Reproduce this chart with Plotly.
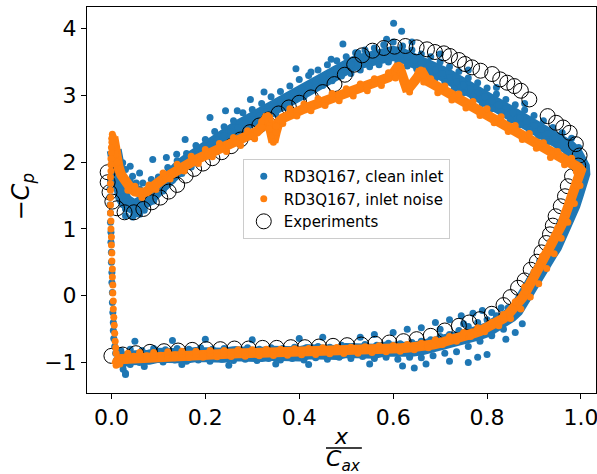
import plotly.graph_objects as go

# ---------------- Experiments ----------------
exp_suction_x = [-0.008,-0.008,-0.004,0.002,0.012,0.028,0.048,0.068,0.086,0.104,0.122,0.140,0.158,0.176,0.195,0.215,0.235,0.255,0.275,0.295,0.315,0.335,0.356,0.378,0.400,0.425,0.450,0.475,0.497,0.517,0.534,0.556,0.580,0.603,0.626,0.650,0.672,0.689,0.708,0.721,0.740,0.753,0.768,0.786,0.811,0.828,0.843,0.858,0.872,0.890,0.929,0.947,0.962,0.976,0.989,0.997,0.994]
exp_suction_y = [1.85,1.70,1.55,1.41,1.31,1.25,1.25,1.30,1.40,1.47,1.56,1.66,1.80,1.90,1.98,2.06,2.15,2.24,2.34,2.45,2.55,2.64,2.73,2.82,2.89,2.97,3.05,3.17,3.31,3.46,3.60,3.67,3.71,3.73,3.74,3.72,3.69,3.65,3.63,3.59,3.53,3.47,3.42,3.37,3.32,3.24,3.19,3.14,3.07,2.94,2.69,2.59,2.52,2.44,2.27,2.10,1.95]
exp_pressure_x = [0.981,0.972,0.966,0.957,0.946,0.940,0.934,0.926,0.916,0.906,0.893,0.880,0.866,0.850,0.835,0.810,0.785,0.762,0.740,0.710,0.680,0.650,0.622,0.592,0.562,0.532,0.502,0.472,0.442,0.412,0.382,0.352,0.322,0.292,0.262,0.232,0.202,0.172,0.142,0.112,0.082,0.052,0.024,0.000]
exp_pressure_y = [1.79,1.64,1.49,1.34,1.19,1.05,0.92,0.79,0.65,0.51,0.39,0.23,0.12,-0.02,-0.14,-0.27,-0.35,-0.40,-0.45,-0.52,-0.60,-0.65,-0.68,-0.70,-0.72,-0.73,-0.74,-0.75,-0.76,-0.77,-0.77,-0.78,-0.78,-0.79,-0.79,-0.80,-0.80,-0.81,-0.82,-0.83,-0.84,-0.86,-0.88,-0.90]

# ---------------- RD3Q167, inlet noise (orange) ----------------
noise_suction_x = [0.004,0.006,0.009,0.012,0.016,0.021,0.027,0.034,0.042,0.050,0.058,0.066,0.075,0.085,0.095,0.105,0.115,0.130,0.145,0.160,0.175,0.190,0.205,0.220,0.235,0.250,0.265,0.280,0.295,0.310,0.320,0.328,0.333,0.337,0.341,0.345,0.350,0.356,0.365,0.380,0.395,0.410,0.425,0.440,0.455,0.470,0.485,0.500,0.515,0.530,0.545,0.560,0.575,0.590,0.600,0.607,0.612,0.617,0.622,0.628,0.636,0.645,0.653,0.659,0.664,0.672,0.685,0.700,0.715,0.730,0.745,0.760,0.775,0.790,0.805,0.820,0.835,0.850,0.865,0.880,0.895,0.910,0.925,0.940,0.955,0.970,0.985,0.995,1.000]
noise_suction_y = [2.38,2.26,2.12,2.00,1.90,1.81,1.73,1.66,1.60,1.56,1.54,1.54,1.56,1.60,1.66,1.72,1.77,1.84,1.90,1.96,2.02,2.07,2.12,2.17,2.21,2.25,2.30,2.35,2.40,2.46,2.53,2.62,2.70,2.55,2.40,2.30,2.45,2.60,2.66,2.72,2.76,2.80,2.84,2.88,2.92,2.96,2.99,3.03,3.06,3.10,3.14,3.18,3.22,3.27,3.33,3.40,3.45,3.35,3.22,3.12,3.13,3.20,3.28,3.38,3.30,3.22,3.17,3.11,3.05,2.99,2.94,2.88,2.82,2.77,2.71,2.65,2.59,2.53,2.46,2.40,2.34,2.27,2.20,2.13,2.07,2.02,1.97,1.92,1.88]
noise_suction_top_x = [0.020,0.050,0.080,0.110,0.140,0.170,0.200,0.230,0.260,0.290,0.320,0.350,0.380,0.410,0.440,0.470,0.500,0.530,0.560,0.590,0.620,0.650,0.680,0.710,0.740,0.770,0.800,0.830,0.860,0.890,0.920,0.950,0.980]
noise_suction_top_y = [1.90,1.64,1.66,1.84,1.97,2.09,2.19,2.28,2.37,2.47,2.61,2.54,2.80,2.87,2.95,3.03,3.10,3.17,3.25,3.34,3.32,3.28,3.25,3.14,3.02,2.91,2.80,2.68,2.55,2.43,2.29,2.16,2.06]
noise_suction_bot_x = [0.035,0.065,0.095,0.125,0.155,0.185,0.215,0.245,0.275,0.305,0.335,0.365,0.395,0.425,0.455,0.485,0.515,0.545,0.575,0.605,0.635,0.665,0.695,0.725,0.755,0.785,0.815,0.845,0.875,0.905,0.935,0.965,0.990]
noise_suction_bot_y = [1.58,1.47,1.59,1.75,1.87,1.98,2.08,2.16,2.25,2.35,2.50,2.58,2.69,2.77,2.85,2.92,2.99,3.07,3.15,3.26,3.05,3.20,3.04,2.93,2.81,2.70,2.59,2.46,2.34,2.21,2.07,1.96,1.86]
noise_pressure_x = [1.000,0.996,0.990,0.985,0.980,0.975,0.970,0.966,0.960,0.955,0.950,0.944,0.936,0.928,0.920,0.912,0.905,0.898,0.890,0.882,0.875,0.866,0.856,0.846,0.835,0.822,0.810,0.798,0.785,0.772,0.760,0.747,0.735,0.722,0.710,0.698,0.685,0.672,0.660,0.645,0.630,0.615,0.600,0.585,0.570,0.555,0.540,0.525,0.510,0.495,0.480,0.465,0.450,0.435,0.420,0.405,0.390,0.375,0.360,0.345,0.330,0.315,0.300,0.285,0.270,0.255,0.240,0.225,0.210,0.195,0.180,0.165,0.150,0.135,0.120,0.105,0.090,0.075,0.060,0.048,0.038,0.030,0.022,0.016,0.012,0.010]
noise_pressure_y = [1.88,1.79,1.66,1.55,1.44,1.34,1.24,1.16,1.08,1.01,0.94,0.85,0.74,0.64,0.54,0.44,0.34,0.25,0.14,0.05,-0.03,-0.12,-0.20,-0.27,-0.34,-0.40,-0.45,-0.49,-0.53,-0.56,-0.59,-0.62,-0.645,-0.67,-0.69,-0.71,-0.73,-0.75,-0.76,-0.77,-0.78,-0.785,-0.79,-0.795,-0.80,-0.80,-0.81,-0.81,-0.815,-0.82,-0.82,-0.825,-0.83,-0.83,-0.835,-0.84,-0.84,-0.845,-0.845,-0.85,-0.85,-0.855,-0.855,-0.86,-0.86,-0.865,-0.865,-0.87,-0.87,-0.875,-0.875,-0.88,-0.88,-0.885,-0.885,-0.89,-0.895,-0.90,-0.90,-0.905,-0.91,-0.92,-0.93,-0.95,-0.99,-1.04]
noise_pressure_top_x = [0.992,0.978,0.965,0.950,0.935,0.918,0.900,0.880,0.860,0.835,0.810,0.780,0.750,0.720,0.690,0.660,0.630,0.600,0.570,0.540,0.510,0.480,0.450,0.420,0.390,0.360,0.330,0.300,0.270,0.240,0.210,0.180,0.150,0.120,0.090,0.060,0.035]
noise_pressure_top_y = [1.75,1.47,1.25,1.01,0.80,0.59,0.36,0.13,-0.09,-0.28,-0.40,-0.48,-0.55,-0.61,-0.66,-0.71,-0.73,-0.745,-0.75,-0.765,-0.77,-0.775,-0.78,-0.79,-0.795,-0.80,-0.80,-0.81,-0.81,-0.82,-0.82,-0.83,-0.83,-0.84,-0.85,-0.85,-0.86]
noise_pressure_bot_x = [0.998,0.986,0.972,0.958,0.943,0.927,0.910,0.892,0.872,0.850,0.825,0.795,0.765,0.735,0.705,0.675,0.645,0.615,0.585,0.555,0.525,0.495,0.465,0.435,0.405,0.375,0.345,0.315,0.285,0.255,0.225,0.195,0.165,0.135,0.105,0.075,0.050,0.030,0.018]
noise_pressure_bot_y = [1.65,1.38,1.10,0.86,0.63,0.41,0.18,-0.02,-0.20,-0.34,-0.45,-0.54,-0.61,-0.68,-0.73,-0.78,-0.81,-0.83,-0.84,-0.85,-0.86,-0.865,-0.87,-0.88,-0.885,-0.89,-0.895,-0.90,-0.905,-0.91,-0.915,-0.92,-0.925,-0.93,-0.935,-0.94,-0.95,-0.97,-1.02]
noise_le_x = [0.002,0.001,0.001,0.000,0.000,-0.001,-0.001,-0.001,-0.002,-0.002,-0.002,-0.002,-0.002,-0.002,-0.001,-0.001,0.000,0.000,0.001,0.001,0.002,0.002,0.003,0.003,0.004,0.004,0.005,0.006,0.007,0.008,0.009,0.010]
noise_le_y = [2.42,2.36,2.30,2.22,2.14,2.05,1.96,1.87,1.78,1.68,1.58,1.47,1.36,1.24,1.12,1.00,0.88,0.76,0.64,0.52,0.40,0.28,0.16,0.04,-0.08,-0.20,-0.32,-0.44,-0.56,-0.68,-0.78,-0.86]

# ---------------- RD3Q167, clean inlet (blue) ----------------
clean_suction_x = [0.006,0.008,0.010,0.012,0.015,0.019,0.024,0.030,0.037,0.045,0.053,0.061,0.070,0.080,0.090,0.100,0.110,0.120,0.135,0.150,0.165,0.180,0.195,0.210,0.225,0.240,0.255,0.270,0.285,0.300,0.315,0.330,0.345,0.360,0.375,0.390,0.405,0.420,0.435,0.450,0.465,0.480,0.495,0.510,0.525,0.540,0.555,0.570,0.585,0.600,0.615,0.630,0.645,0.660,0.675,0.690,0.705,0.720,0.735,0.750,0.765,0.780,0.795,0.810,0.825,0.840,0.855,0.870,0.885,0.900,0.915,0.930,0.945,0.960,0.975,0.988,0.998,1.003,1.004]
clean_suction_y = [2.18,2.05,1.92,1.80,1.68,1.57,1.48,1.41,1.36,1.34,1.34,1.36,1.40,1.46,1.54,1.62,1.70,1.77,1.86,1.95,2.03,2.11,2.19,2.26,2.33,2.40,2.46,2.52,2.58,2.64,2.70,2.76,2.83,2.90,2.97,3.04,3.10,3.16,3.22,3.28,3.33,3.38,3.42,3.46,3.50,3.53,3.56,3.59,3.62,3.63,3.61,3.57,3.53,3.49,3.44,3.38,3.33,3.27,3.21,3.16,3.10,3.04,2.98,2.92,2.86,2.80,2.74,2.67,2.61,2.55,2.49,2.43,2.36,2.29,2.22,2.13,2.03,1.93,1.83]
clean_suction_top_x = [0.020,0.040,0.060,0.080,0.100,0.120,0.140,0.160,0.180,0.200,0.220,0.240,0.260,0.280,0.300,0.320,0.340,0.360,0.380,0.400,0.420,0.440,0.460,0.480,0.500,0.520,0.540,0.560,0.580,0.600,0.620,0.640,0.660,0.680,0.700,0.720,0.740,0.760,0.780,0.800,0.820,0.840,0.860,0.880,0.900,0.920,0.940,0.960,0.980,0.995]
clean_suction_top_y = [1.85,1.72,1.60,1.62,1.78,1.92,2.02,2.13,2.25,2.34,2.46,2.53,2.62,2.74,2.79,2.88,2.98,3.06,3.14,3.24,3.30,3.38,3.46,3.52,3.58,3.64,3.68,3.71,3.76,3.80,3.74,3.68,3.62,3.58,3.50,3.43,3.36,3.26,3.19,3.11,3.02,2.94,2.86,2.78,2.70,2.62,2.52,2.44,2.36,2.22]
clean_suction_bot_x = [0.030,0.050,0.070,0.090,0.110,0.130,0.150,0.170,0.190,0.210,0.230,0.250,0.270,0.290,0.310,0.330,0.350,0.370,0.390,0.410,0.430,0.450,0.470,0.490,0.510,0.530,0.550,0.570,0.590,0.610,0.630,0.650,0.670,0.690,0.710,0.730,0.750,0.770,0.790,0.810,0.830,0.850,0.870,0.890,0.910,0.930,0.950,0.970,0.990]
clean_suction_bot_y = [1.30,1.22,1.28,1.42,1.57,1.73,1.83,1.93,2.06,2.14,2.21,2.33,2.40,2.44,2.57,2.63,2.72,2.82,2.93,2.98,3.09,3.15,3.22,3.29,3.33,3.38,3.43,3.46,3.50,3.50,3.44,3.40,3.33,3.26,3.21,3.10,3.04,2.98,2.88,2.80,2.75,2.63,2.56,2.49,2.39,2.31,2.25,2.14,2.02]
clean_suction_out_x = [0.010,0.012,0.024,0.030,0.040,0.020,0.045,0.060,0.053,0.067,0.085,0.088,0.117,0.139,0.157,0.210,0.243,0.268,0.296,0.325,0.393,0.425,0.468,0.493,0.525,0.586,0.601,0.618,0.640,0.700,0.760,0.820,0.880,0.030,0.045,0.060]
clean_suction_out_y = [2.15,2.06,1.99,1.89,1.94,1.82,1.79,1.84,1.69,1.69,1.74,2.04,2.07,2.12,2.34,2.67,2.77,2.77,2.94,3.05,3.40,3.35,3.54,3.77,3.64,3.84,4.08,3.96,3.80,3.62,3.38,3.12,2.88,1.20,1.18,1.22]
clean_pressure_x = [1.003,0.997,0.990,0.983,0.976,0.968,0.960,0.952,0.944,0.935,0.926,0.916,0.906,0.896,0.885,0.874,0.862,0.850,0.835,0.820,0.800,0.780,0.760,0.740,0.720,0.700,0.680,0.660,0.640,0.620,0.600,0.580,0.560,0.540,0.520,0.500,0.480,0.460,0.440,0.420,0.400,0.380,0.360,0.340,0.320,0.300,0.280,0.260,0.240,0.220,0.200,0.180,0.160,0.140,0.120,0.100,0.080,0.060,0.040,0.025,0.015]
clean_pressure_y = [1.79,1.66,1.51,1.36,1.22,1.09,0.98,0.86,0.74,0.64,0.53,0.40,0.26,0.13,0.01,-0.11,-0.21,-0.29,-0.37,-0.44,-0.51,-0.56,-0.60,-0.66,-0.68,-0.72,-0.76,-0.78,-0.80,-0.79,-0.82,-0.80,-0.83,-0.81,-0.84,-0.82,-0.85,-0.83,-0.86,-0.84,-0.87,-0.85,-0.88,-0.86,-0.88,-0.86,-0.89,-0.87,-0.89,-0.87,-0.90,-0.88,-0.90,-0.88,-0.91,-0.89,-0.92,-0.90,-0.93,-0.95,-1.02]
clean_pressure_top_x = [0.975,0.955,0.935,0.912,0.890,0.870,0.845,0.820,0.800,0.780,0.760,0.740,0.720,0.700,0.680,0.660,0.640,0.615,0.590,0.565,0.540,0.515,0.490,0.465,0.440,0.415,0.390,0.365,0.340,0.315,0.290,0.265,0.240,0.215,0.190,0.165,0.140,0.115,0.090,0.065,0.040,0.020]
clean_pressure_top_y = [1.42,1.09,0.81,0.52,0.23,-0.02,-0.18,-0.30,-0.36,-0.40,-0.46,-0.52,-0.58,-0.61,-0.66,-0.68,-0.70,-0.72,-0.71,-0.74,-0.73,-0.76,-0.74,-0.77,-0.76,-0.78,-0.77,-0.79,-0.78,-0.80,-0.78,-0.81,-0.79,-0.80,-0.78,-0.80,-0.79,-0.81,-0.79,-0.82,-0.80,-0.82]
clean_pressure_bot_x = [0.985,0.968,0.950,0.930,0.908,0.885,0.860,0.835,0.810,0.785,0.760,0.735,0.710,0.685,0.660,0.635,0.610,0.585,0.560,0.535,0.510,0.485,0.460,0.435,0.410,0.385,0.360,0.335,0.310,0.285,0.260,0.235,0.210,0.185,0.160,0.135,0.110,0.085,0.060,0.040,0.025,0.030]
clean_pressure_bot_y = [1.29,1.02,0.77,0.51,0.22,-0.05,-0.28,-0.50,-0.60,-0.68,-0.76,-0.84,-0.86,-0.90,-0.93,-0.92,-0.95,-0.92,-0.94,-0.91,-0.94,-0.92,-0.95,-0.93,-0.96,-0.94,-0.96,-0.94,-0.97,-0.95,-0.97,-0.95,-0.98,-0.96,-0.98,-0.96,-0.99,-0.97,-1.00,-1.03,-1.10,-1.16]
clean_pressure_out_x = [0.600,0.630,0.660,0.690,0.720,0.745,0.770,0.790,0.810,0.830,0.820,0.700,0.750,0.560,0.530,0.450,0.400,0.300,0.200,0.130,0.050,0.620,0.645,0.670,0.720,0.780,0.800,0.760,0.550,0.420,0.350,0.250,0.150,0.070,0.030,0.840,0.860,0.875]
clean_pressure_out_y = [-0.55,-0.50,-0.48,-0.40,-0.36,-0.30,-0.26,-0.22,-0.25,-0.18,-0.34,-0.50,-0.42,-0.58,-0.62,-0.62,-0.64,-0.66,-0.65,-0.67,-0.68,-1.05,-1.08,-1.02,-0.98,-0.92,-0.88,-1.00,-1.02,-1.03,-1.02,-1.04,-1.03,-1.06,-1.18,-0.65,-0.55,-0.42]
clean_le_x = [0.003,0.004,0.002,0.001,-0.002,-0.003,-0.003,-0.003,-0.002,-0.002,-0.001,-0.001,0.000,0.000,0.001,0.001,0.002,0.002,0.003,0.004,0.004,0.005,0.007,0.009]
clean_le_y = [2.20,2.08,1.96,1.84,1.72,1.60,1.48,1.36,1.24,1.10,0.95,0.80,0.65,0.50,0.35,0.20,0.05,-0.10,-0.25,-0.40,-0.52,-0.64,-0.76,-0.86]

# ---------------- axis ticks ----------------
x_tickvals = [0.0, 0.2, 0.4, 0.6, 0.8, 1.0]
x_ticktext = ["0.0", "0.2", "0.4", "0.6", "0.8", "1.0"]
y_tickvals = [-1, 0, 1, 2, 3, 4]
y_ticktext = ["\u22121", "0", "1", "2", "3", "4"]

BLUE = "#1f77b4"
ORANGE = "#ff7f0e"

# dense cores of the point clouds (surface traced LE -> TE -> LE)
clean_core_x = clean_suction_x + clean_pressure_x
clean_core_y = clean_suction_y + clean_pressure_y
noise_core_x = noise_suction_x + noise_pressure_x
noise_core_y = noise_suction_y + noise_pressure_y

clean_x = clean_suction_x + clean_suction_top_x + clean_suction_bot_x + clean_suction_out_x + clean_pressure_x + clean_pressure_top_x + clean_pressure_bot_x + clean_pressure_out_x + clean_le_x
clean_y = clean_suction_y + clean_suction_top_y + clean_suction_bot_y + clean_suction_out_y + clean_pressure_y + clean_pressure_top_y + clean_pressure_bot_y + clean_pressure_out_y + clean_le_y
noise_x = noise_suction_x + noise_suction_top_x + noise_suction_bot_x + noise_pressure_x + noise_pressure_top_x + noise_pressure_bot_x + noise_le_x
noise_y = noise_suction_y + noise_suction_top_y + noise_suction_bot_y + noise_pressure_y + noise_pressure_top_y + noise_pressure_bot_y + noise_le_y
exp_x = exp_suction_x + exp_pressure_x
exp_y = exp_suction_y + exp_pressure_y

fig = go.Figure()
fig.add_trace(go.Scatter(x=clean_core_x, y=clean_core_y, mode="lines", showlegend=False, hoverinfo="skip",
                         line=dict(color=BLUE, width=15, shape="linear")))
fig.add_trace(go.Scatter(x=clean_x, y=clean_y, mode="markers", name="RD3Q167, clean inlet",
                         marker=dict(color=BLUE, size=7, line=dict(width=0)),
                         legendrank=1))
fig.add_trace(go.Scatter(x=exp_x, y=exp_y, mode="markers", name="Experiments",
                         marker=dict(symbol="circle-open", color="black", size=15, line=dict(width=1, color="black")),
                         legendrank=3))
fig.add_trace(go.Scatter(x=noise_core_x, y=noise_core_y, mode="lines", showlegend=False, hoverinfo="skip",
                         line=dict(color=ORANGE, width=10, shape="linear")))
fig.add_trace(go.Scatter(x=noise_x, y=noise_y, mode="markers", name="RD3Q167, inlet noise",
                         marker=dict(color=ORANGE, size=7, line=dict(width=0)),
                         legendrank=2))

axis_common = dict(showline=True, mirror=True, linecolor="black", linewidth=1,
                   ticks="outside", ticklen=5, tickwidth=1, tickcolor="black",
                   showgrid=False, zeroline=False, ticklabeloverflow="allow", automargin=False,
                   tickfont=dict(family="DejaVu Sans", size=22, color="black"))

fig.update_layout(
    width=597, height=474,
    margin=dict(l=87, r=1, t=7, b=81, autoexpand=False),
    paper_bgcolor="white", plot_bgcolor="white",
    font=dict(family="DejaVu Sans", size=20, color="black"),
    showlegend=True,
    legend=dict(x=0.306, y=0.606, xanchor="left", yanchor="top",
                bgcolor="rgba(255,255,255,0.8)", bordercolor="#cccccc", borderwidth=1,
                font=dict(family="DejaVu Sans", size=15, color="black"),
                traceorder="normal"),
    xaxis=dict(range=[-0.052, 1.032], tickvals=x_tickvals, ticktext=x_ticktext, **axis_common),
    yaxis=dict(range=[-1.456, 4.324], tickvals=y_tickvals, ticktext=y_ticktext, **axis_common),
)

fig.add_annotation(text="<i>x</i>", xref="paper", yref="paper", x=0.5, y=-0.112,
                   showarrow=False, xanchor="center", yanchor="middle",
                   font=dict(family="DejaVu Sans", size=22, color="black"))
fig.add_annotation(text="<i>C</i><sub><i>ax</i></sub>", xref="paper", yref="paper", x=0.503, y=-0.175,
                   showarrow=False, xanchor="center", yanchor="middle",
                   font=dict(family="DejaVu Sans", size=22, color="black"))
fig.add_shape(type="line", xref="paper", yref="paper", x0=0.4695, x1=0.540, y0=-0.1425, y1=-0.1425,
              line=dict(color="black", width=1.5))
fig.add_annotation(text="\u2212<i>C</i><sub><i>p</i></sub>", xref="paper", yref="paper", x=-0.127, y=0.51,
                   showarrow=False, xanchor="center", yanchor="middle", textangle=-90,
                   font=dict(family="DejaVu Sans", size=24, color="black"))

fig.write_html("out.html", config={"displayModeBar": False},
               post_script="document.body.style.margin='0px';document.body.style.overflow='hidden';")
